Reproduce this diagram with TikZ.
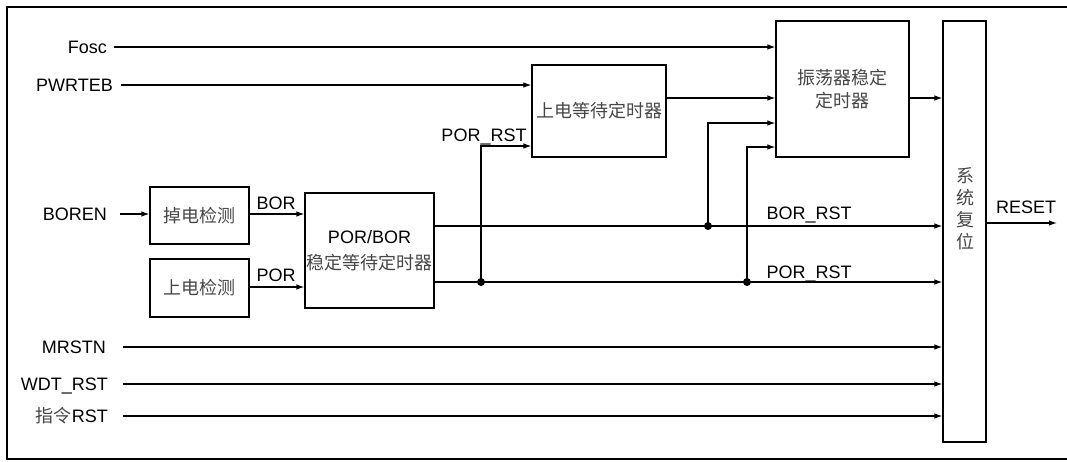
\documentclass[tikz,border=0pt]{standalone}
\usepackage{fontspec}
\setmainfont{Liberation Sans}
\newfontfamily\cjk{Noto Sans CJK SC}
\usetikzlibrary{arrows.meta}
\definecolor{zhgray}{RGB}{70,70,70}
\begin{document}
\begin{tikzpicture}[x=1pt,y=-1pt,
  blk/.style={draw, line width=1.2pt, inner sep=0pt, anchor=center},
  lbl/.style={font=\fontsize{18}{20}\selectfont, inner sep=0pt, text height=13pt, text depth=0pt},
  zh/.style={font=\fontsize{18}{23}\selectfont\cjk, text=zhgray},
  wire/.style={line width=1.2pt},
  sig/.style={wire, -{Latex[length=8pt,width=5.5pt]}},
  jdot/.style={circle, fill, inner sep=0pt, minimum size=8pt}]
\useasboundingbox (0,0) rectangle (1067,462);
% frame (open on the right, cropped)
\draw[line width=2.5pt] (1075,7) -- (7,7) -- (7,459) -- (1075,459);

% blocks
\node[blk, zh, align=center, minimum width=133pt, minimum height=136pt] (osc) at (842.5,89) {振荡器稳定\\定时器};
\node[blk, zh, minimum width=134pt, minimum height=92pt] (pwr) at (599,111) {上电等待定时器};
\node[blk, minimum width=43pt, minimum height=421pt] (sys) at (964.5,231.5) {};
\node[zh, align=center, font=\fontsize{18}{22}\selectfont\cjk, inner sep=0pt] (systxt) at (965,209) {系\\统\\复\\位};
\node[blk, zh, minimum width=99pt, minimum height=57pt] (bord) at (199.5,215.5) {掉电检测};
\node[blk, zh, minimum width=99pt, minimum height=58pt] (pord) at (199.5,288) {上电检测};
\node[blk, align=center, font=\fontsize{18}{26}\selectfont, minimum width=129pt, minimum height=115pt] (pb) at (369.5,250.5) {POR/BOR\\{\cjk\color{zhgray}稳定等待定时器}};

% input labels
\node[lbl, anchor=east] (fosc) at (107,47) {Fosc};
\node[lbl, anchor=east] (pwrteb) at (113,85) {PWRTEB};
\node[lbl, anchor=east] (boren) at (107,214) {BOREN};
\node[lbl, anchor=east] (mrstn) at (106,347) {MRSTN};
\node[lbl, anchor=east] (wdt) at (108,384) {WDT\_RST};
\node[lbl, anchor=east] (inst) at (108,416) {{\cjk\color{zhgray}指令}RST};

% signal labels
\node[lbl] (borlbl) at (276,203) {BOR};
\node[lbl] (porlbl) at (276,275) {POR};
\node[lbl] (porrst1) at (484,135) {POR\_RST};
\node[lbl] (borrst) at (809,213) {BOR\_RST};
\node[lbl] (porrst2) at (809,272) {POR\_RST};
\node[lbl] (resetlbl) at (1026,207) {RESET};

% junctions
\node[jdot] (jb) at (708,226) {};
\node[jdot] (jp1) at (481,282) {};
\node[jdot] (jp2) at (747,282) {};
\coordinate (resetend) at (1057,223);

% wires
\draw[sig] ([xshift=7pt]fosc.east) -- (fosc.east -| osc.west);
\draw[sig] ([xshift=8pt]pwrteb.east) -- (pwrteb.east -| pwr.west);
\draw[sig] ([xshift=13pt]boren.east) -- (boren.east -| bord.west);
\draw[sig] (bord.east |- 0,214) -- (pb.west |- 0,214);
\draw[sig] (pord.east |- 0,287) -- (pb.west |- 0,287);
\draw[sig] (pb.east |- jb) -- (jb -| sys.west);
\draw[sig] (pb.east |- jp1) -- (jp1 -| sys.west);
\draw[sig] (jp1.center) |- (pwr.west |- 0,146);
\draw[sig] (pwr.east |- 0,98) -- (osc.west |- 0,98);
\draw[sig] (jb.center) |- (osc.west |- 0,123);
\draw[sig] (jp2.center) |- (osc.west |- 0,147);
\draw[sig] (osc.east |- 0,98) -- (sys.west |- 0,98);
\draw[sig] (sys.east |- resetend) -- (resetend);
\draw[sig] ([xshift=17pt]mrstn.east) -- (mrstn.east -| sys.west);
\draw[sig] ([xshift=15pt]wdt.east) -- (wdt.east -| sys.west);
\draw[sig] ([xshift=15pt]inst.east) -- (inst.east -| sys.west);
\end{tikzpicture}
\end{document}
